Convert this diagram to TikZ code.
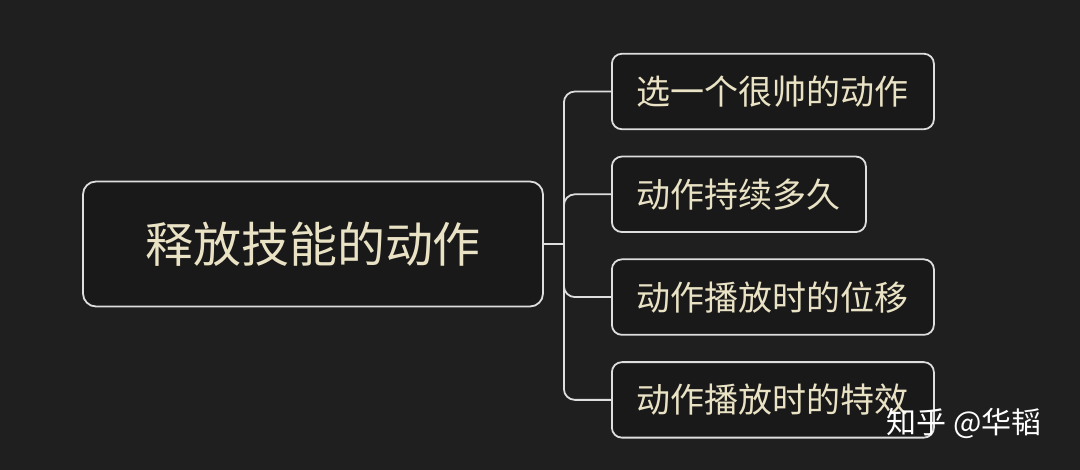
\documentclass[tikz,border=0pt]{standalone}
\usepackage{fontspec}
\newfontfamily\cjk{Noto Sans CJK SC}
\usepackage{tikz}
\usetikzlibrary{positioning}
\definecolor{bgdark}{HTML}{1F1F1F}
\definecolor{boxfill}{HTML}{191919}
\definecolor{edgegray}{HTML}{DEDEDE}
\definecolor{txtgold}{HTML}{E9E2C4}

\begin{document}
\begin{tikzpicture}[x=1pt, y=-1pt,
node distance = 25.5pt,
  ROOT/.style = {draw=edgegray, fill=boxfill, line width=1.8pt,
                 rounded corners=13pt, minimum width=460pt, minimum height=125pt,
                 text=txtgold, font=\cjk\fontsize{48}{50}\selectfont},
   LEAF/.style = {draw=edgegray, fill=boxfill, line width=1.8pt,
                 rounded corners=10pt, minimum height=75.5pt, inner xsep=25pt,
                 text=txtgold, font=\cjk\fontsize{34}{38}\selectfont},
    BR/.style = {draw=edgegray, line width=1.8pt, rounded corners=11pt},% branch lines
    WM/.style = {text=white, font=\cjk\fontsize{30}{32}\selectfont}%watermark
                        ]
\fill[bgdark] (0,0) rectangle (1080,470);
\useasboundingbox (0,0) rectangle (1080,470);
% root and leaves
\node (root) [ROOT] at (313,244) {释放技能的动作};
\node (c1) [LEAF, anchor=west] at (611,91.5) {选一个很帅的动作};
\node (c2) [LEAF, below=of c1.south west, anchor=north west] {动作持续多久};
\node (c3) [LEAF, below=of c2.south west, anchor=north west] {动作播放时的位移};
\node (c4) [LEAF, below=of c3.south west, anchor=north west] {动作播放时的特效};
% branches
\draw[BR] (root.east) -- ++(20,0) coordinate (hub);
\foreach \c in {c1,c2,c3,c4}
    \draw[BR] (hub) |- (\c.west);
\node (wm) [WM] at (964,423) {知乎 @华韬};
\end{tikzpicture}
\end{document}
